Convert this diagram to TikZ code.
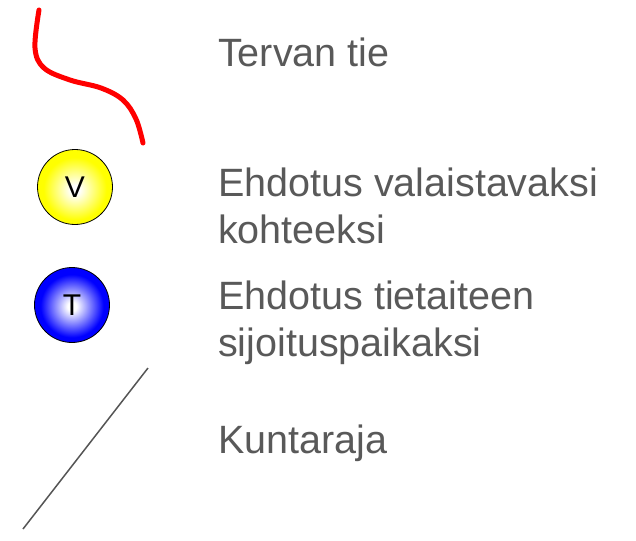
\documentclass[tikz,border=0pt]{standalone}
\usepackage{fontspec}
\setmainfont{Liberation Sans}
\definecolor{txtgray}{HTML}{595959}
\definecolor{linegray}{HTML}{555555}
\pgfdeclareradialshading{yellowball}{\pgfpoint{0bp}{-2bp}}{color(0bp)=(white); color(3bp)=(white); color(21bp)=(yellow); color(50bp)=(yellow)}
\pgfdeclareradialshading{blueball}{\pgfpoint{0bp}{-1bp}}{color(0bp)=(white); color(3bp)=(white); color(21bp)=(blue); color(50bp)=(blue)}
\tikzset{
  legendtext/.style={anchor=base west, inner sep=0pt, text=txtgray, align=left,
    font=\fontsize{39.5}{47}\selectfont},
  ballnode/.style={circle, draw=black, line width=0.8pt, minimum size=75pt, inner sep=0pt,
    font=\fontsize{30}{30}\selectfont, text=black},
  roadline/.style={red, line width=5pt, line cap=round, line join=round},
  borderline/.style={linegray, line width=1.5pt}
}
\begin{document}
\begin{tikzpicture}[x=1pt,y=-1pt]
\useasboundingbox (0,0) rectangle (636,540);
% red road
\draw[roadline] plot[smooth, tension=0.6] coordinates {(39,10) (35,48) (44,68) (70,80) (101,88) (123,100) (136,119) (143,143)};
% balls
\node[ballnode, shading=yellowball] (v) at (75,187) {V};
\node[ballnode, shading=blueball] (t) at (72,305) {T};
% border line
\coordinate (b1) at (148,368);
\coordinate (b2) at (23,529);
\draw[borderline] (b1) -- (b2);
% texts
\node[legendtext] (l1) at (218,67) {Tervan tie};
\node[legendtext] (l2) at (218,243) {Ehdotus valaistavaksi\\kohteeksi};
\node[legendtext] (l3) at (218,356) {Ehdotus tietaiteen\\sijoituspaikaksi};
\node[legendtext] (l4) at (218,453) {Kuntaraja};
\end{tikzpicture}
\end{document}
